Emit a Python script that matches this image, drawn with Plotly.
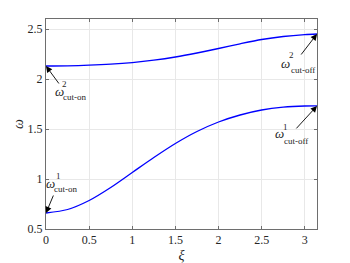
import math

import plotly.graph_objects as go

# wavenumber and the two dispersion branches
xi = [0, 0.25, 0.5, 0.75, 1.0, 1.25, 1.5, 1.75, 2.0, 2.25, 2.5, 2.75, 3.0, math.pi]
omega_1 = [0.66, 0.695, 0.785, 0.915, 1.065, 1.215, 1.355, 1.475, 1.57, 1.64, 1.69, 1.718, 1.73, 1.731]
omega_2 = [2.13, 2.132, 2.138, 2.148, 2.164, 2.188, 2.22, 2.26, 2.305, 2.352, 2.395, 2.425, 2.444, 2.45]

x_ticks = [0, 0.5, 1, 1.5, 2, 2.5, 3]
y_ticks = [0.5, 1, 1.5, 2, 2.5]

SERIF = "Liberation Serif"
AXIS_GREY = "#6e6e6e"
TEXT_DARK = "#262626"

fig = go.Figure()
for branch in (omega_1, omega_2):
    fig.add_trace(go.Scatter(
        x=xi, y=branch, mode="lines",
        line=dict(color="#0000ff", width=1.3, shape="spline", smoothing=0.8),
        showlegend=False,
    ))


def add_label(x, y, sup, sub, arrow, omega_off, sup_off, sub_off):
    # arrow: tail offset from the head (px); the others: label piece offsets from the head (px, y down)
    fig.add_annotation(x=x, y=y, text="", showarrow=True, arrowhead=2, arrowsize=1.4,
                       arrowwidth=0.9, arrowcolor="black", ax=arrow[0], ay=arrow[1])
    pieces = [("<i>ω</i>", 13, omega_off), (sup, 9, sup_off), (sub, 9, sub_off)]
    for text, size, (dx, dy) in pieces:
        fig.add_annotation(x=x, y=y, text=text, showarrow=False, xshift=dx, yshift=-dy,
                           xanchor="center", yanchor="middle",
                           font=dict(family=SERIF, size=size, color=TEXT_DARK))


add_label(xi[0], omega_1[0], "1", "cut-on", (8, -19), (4.5, -30), (12.5, -37), (19.5, -24))
add_label(xi[0], omega_2[0], "2", "cut-on", (14, 19), (13, 25), (18.5, 18), (28, 31))
add_label(xi[-1], omega_2[-1], "2", "cut-off", (-17, 22), (-32, 29), (-25.5, 21), (-14, 36))
add_label(xi[-1], omega_1[-1], "1", "cut-off", (-22, 24), (-37.7, 27.7), (-31.5, 21), (-21, 35))

axis_style = dict(
    showline=True, linecolor=AXIS_GREY, linewidth=1, mirror="ticks",
    ticks="inside", ticklen=3, tickcolor=AXIS_GREY,
    showgrid=True, gridcolor="#e8e8e8", gridwidth=1, zeroline=False,
    tickfont=dict(family=SERIF, size=12, color=TEXT_DARK),
    automargin=False,
)

fig.update_xaxes(range=[0, math.pi], tickvals=x_ticks,
                 title=dict(text="<i>ξ</i>", font=dict(family=SERIF, size=14, color=TEXT_DARK), standoff=3),
                 **axis_style)
fig.update_yaxes(range=[0.5, 2.6], tickvals=y_ticks,
                 title=dict(text="<i>ω</i>", font=dict(family=SERIF, size=14, color=TEXT_DARK), standoff=0),
                 **axis_style)

# the page body adds an 8px offset, so the margins are shifted to compensate
fig.update_layout(
    width=350, height=263,
    margin=dict(l=37.5, r=41.3, t=11.3, b=41.7),
    plot_bgcolor="white", paper_bgcolor="white",
)

fig.write_html("out.html")
